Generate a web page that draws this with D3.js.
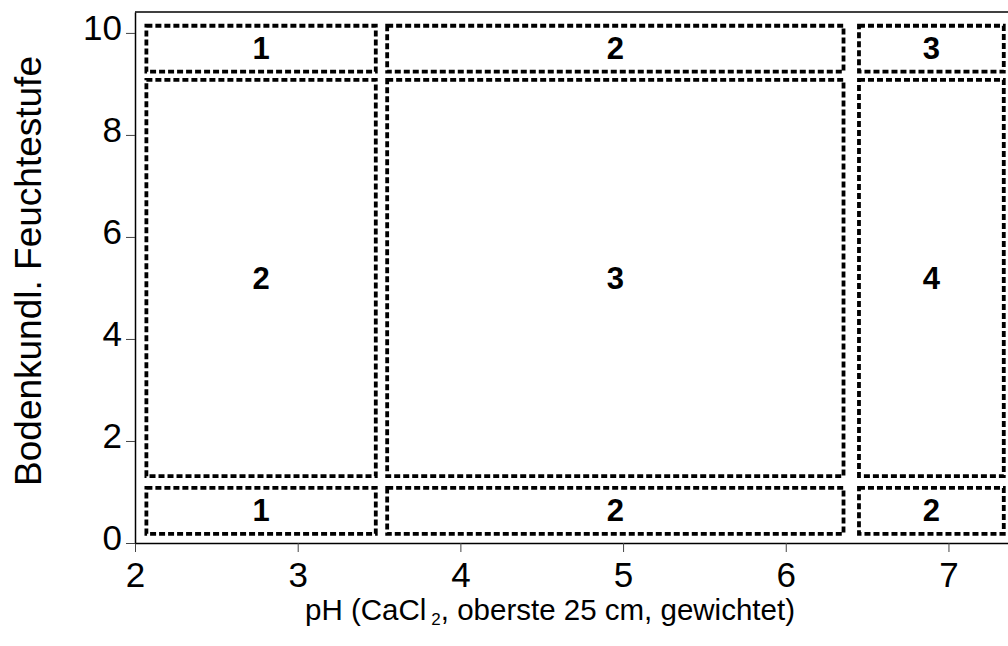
<!DOCTYPE html>
<html>
<head>
<meta charset="utf-8">
<script src="https://cdn.jsdelivr.net/npm/d3@7"></script>
<style>
  html, body { margin: 0; padding: 0; background: #fff; }
  svg { display: block; }
</style>
</head>
<body>
<svg id="chart" width="1008" height="646"></svg>
<script>
// pH ranges (columns) and moisture ranges (rows), bottom to top
const phRanges = [[2.07, 3.48], [3.55, 6.355], [6.45, 7.34]];
const moistRanges = [[0.18, 1.08], [1.31, 9.08], [9.24, 10.14]];
// class labels, one row per moisture range (bottom to top)
const classLabels = [
  ["1", "2", "2"],
  ["2", "3", "4"],
  ["1", "2", "3"]
];
const xTicks = [2, 3, 4, 5, 6, 7];
const yTicks = [0, 2, 4, 6, 8, 10];

const svg = d3.select("#chart");
const fontFamily = "'Liberation Sans', Arial, sans-serif";

const x = d3.scaleLinear().domain([2, 7.366]).range([135, 1008]);
const y = d3.scaleLinear().domain([0, 10.41]).range([543, 12]);

// frame top line
svg.append("line")
  .attr("x1", x(2)).attr("x2", 1008)
  .attr("y1", y(10.41)).attr("y2", y(10.41))
  .attr("stroke", "#000").attr("stroke-width", 1.5);

// axes
const xAxis = svg.append("g")
  .attr("transform", `translate(0,${y(0)})`)
  .call(d3.axisBottom(x).tickValues(xTicks).tickFormat(d3.format("d"))
    .tickSize(9).tickPadding(10).tickSizeOuter(0));
const yAxis = svg.append("g")
  .attr("transform", `translate(${x(2)},0)`)
  .call(d3.axisLeft(y).tickValues(yTicks).tickFormat(d3.format("d"))
    .tickSize(9).tickPadding(4).tickSizeOuter(0));

[xAxis, yAxis].forEach(g => {
  g.select(".domain").attr("stroke", "#000").attr("stroke-width", 1.5);
  g.selectAll(".tick line").attr("stroke", "#444").attr("stroke-width", 1);
  g.selectAll(".tick text")
    .attr("font-family", fontFamily)
    .attr("font-size", 35)
    .attr("fill", "#000");
});
yAxis.selectAll(".tick text").attr("dy", "0.18em");

// dashed boxes + labels
const cells = [];
moistRanges.forEach((r, i) => {
  phRanges.forEach((c, j) => {
    cells.push({x0: c[0], x1: c[1], y0: r[0], y1: r[1], label: classLabels[i][j]});
  });
});

svg.append("g").selectAll("rect")
  .data(cells)
  .join("rect")
    .attr("x", d => x(d.x0))
    .attr("y", d => y(d.y1))
    .attr("width", d => x(d.x1) - x(d.x0))
    .attr("height", d => y(d.y0) - y(d.y1))
    .attr("fill", "none")
    .attr("stroke", "#000")
    .attr("stroke-width", 3.8)
    .attr("stroke-dasharray", "6,3");

svg.append("g").selectAll("text")
  .data(cells)
  .join("text")
    .attr("x", d => x((d.x0 + d.x1) / 2))
    .attr("y", d => y((d.y0 + d.y1) / 2))
    .attr("text-anchor", "middle")
    .attr("dominant-baseline", "central")
    .attr("font-family", fontFamily)
    .attr("font-weight", "bold")
    .attr("font-size", 31)
    .text(d => d.label);

// axis titles
const xTitle = svg.append("text")
  .attr("x", 550)
  .attr("y", 620)
  .attr("text-anchor", "middle")
  .attr("font-family", fontFamily)
  .attr("font-size", 29.5);
xTitle.append("tspan").text("pH (CaCl");
xTitle.append("tspan").attr("dx", 5).attr("dy", 5).attr("font-size", 17).text("2");
xTitle.append("tspan").attr("dy", -5).text(", oberste 25 cm, gewichtet)");

svg.append("text")
  .attr("transform", `translate(41,${271}) rotate(-90)`)
  .attr("text-anchor", "middle")
  .attr("font-family", fontFamily)
  .attr("font-size", 37)
  .text("Bodenkundl. Feuchtestufe");
</script>
</body>
</html>
